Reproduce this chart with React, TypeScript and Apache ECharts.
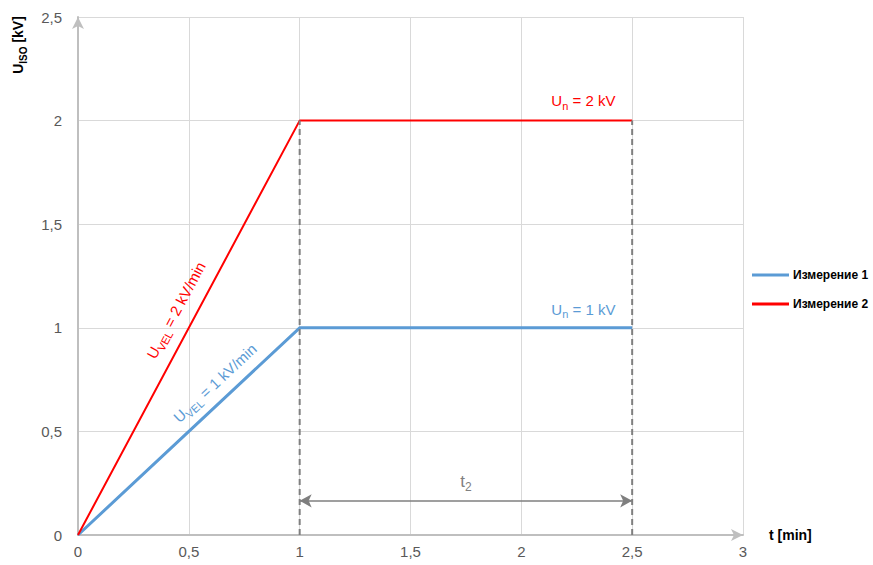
import React, { useEffect, useRef } from "react";
import * as echarts from "echarts";

// ---- data ----
const tValues = [0, 1, 2.5];
const measurement1 = [0, 1, 1];
const measurement2 = [0, 2, 2];
const seriesNames = ["Измерение 1", "Измерение 2"];
const dashedX = [1, 2.5];
const dashedTop = 2;
const t2Span = [1, 2.5];
const t2Level = 0.165;
const xTicks = [0, 0.5, 1, 1.5, 2, 2.5, 3];
const yTicks = [0, 0.5, 1, 1.5, 2, 2.5];

const BLUE = "#5b9bd5";
const RED = "#ff0000";
const GRAY = "#7f7f7f";
const AXIS = "#bfbfbf";
const LABEL = "#595959";
const FONT = "'Liberation Sans', Arial, sans-serif";
const BOLD = "'Liberation Sans', Arial, sans-serif";

const fmt = (v: number) => String(v).replace(".", ",");

// rich styles for ECharts labels (color)
const subRich = (color: string, size: number, font: string, weight: string = "normal") => ({
  m: { fontSize: size, color, fontFamily: font, fontWeight: weight, lineHeight: size + 6, verticalAlign: "middle" },
  s: { fontSize: Math.round(size * 0.7), color, fontFamily: font, fontWeight: weight, lineHeight: Math.round(size * 0.7), verticalAlign: "bottom" },
});
// rich styles for graphic texts (fill)
const subRichG = (color: string, size: number, font: string, weight: string = "normal") => ({
  m: { fontSize: size, fill: color, fontFamily: font, fontWeight: weight, lineHeight: size + 6, verticalAlign: "middle" },
  s: { fontSize: Math.round(size * 0.72), fill: color, fontFamily: font, fontWeight: weight, lineHeight: Math.round(size * 0.72), verticalAlign: "bottom" },
});

export default function App() {
  const ref = useRef<HTMLDivElement>(null);
  useEffect(() => {
    if (!ref.current) return;
    const chart = echarts.init(ref.current, null, { renderer: "svg" });
    const pts1 = tValues.map((t, i) => [t, measurement1[i]]);
    const pts2 = tValues.map((t, i) => [t, measurement2[i]]);
    chart.setOption({
      animation: false,
      backgroundColor: "#ffffff",
      grid: { left: 78, right: 130, top: 17, bottom: 30, containLabel: false },
      legend: {
        orient: "vertical",
        left: 747,
        top: 264,
        icon: "rect",
        itemWidth: 37,
        itemHeight: 3,
        itemGap: 17,
        data: seriesNames,
        textStyle: { fontFamily: BOLD, fontWeight: "bold", fontSize: 12, color: "#000", padding: [0, 0, 0, -1] },
      },
      xAxis: {
        type: "value",
        min: 0,
        max: 3,
        interval: 0.5,
        name: "t [min]",
        nameLocation: "end",
        nameGap: 26,
        nameTextStyle: { fontFamily: BOLD, fontWeight: "bold", fontSize: 14, color: "#000", verticalAlign: "middle", padding: [8, 0, 0, 0] },
        axisLine: { show: true, lineStyle: { color: AXIS, width: 2 }, symbol: ["none", "arrow"], symbolSize: [9, 12], symbolOffset: [0, 0] },
        axisTick: { show: false },
        axisLabel: { formatter: (v: number) => fmt(v), color: LABEL, fontSize: 15, fontFamily: FONT, margin: 9, customValues: xTicks },
        splitLine: { show: true, lineStyle: { color: "#d9d9d9", width: 1 } },
      },
      yAxis: {
        type: "value",
        min: 0,
        max: 2.5,
        interval: 0.5,
        axisLine: { show: true, lineStyle: { color: AXIS, width: 2 }, symbol: ["none", "arrow"], symbolSize: [9, 12] },
        axisTick: { show: false },
        axisLabel: { formatter: (v: number) => fmt(v), color: LABEL, fontSize: 15, fontFamily: FONT, margin: 16, customValues: yTicks },
        splitLine: { show: true, lineStyle: { color: "#d9d9d9", width: 1 } },
      },
      series: [
        {
          name: seriesNames[0],
          type: "line",
          data: pts1,
          symbol: "none",
          lineStyle: { color: BLUE, width: 3 },
          itemStyle: { color: BLUE },
          z: 3,
        },
        {
          name: seriesNames[1],
          type: "line",
          data: pts2,
          symbol: "none",
          lineStyle: { color: RED, width: 2 },
          itemStyle: { color: RED },
          z: 4,
        },
        ...dashedX.map((x) => ({
          name: "dashed" + x,
          type: "line",
          data: [
            [x, 0],
            [x, dashedTop],
          ],
          symbol: "none",
          lineStyle: { color: GRAY, width: 2, type: [6, 4] },
          z: 5,
          silent: true,
        })),
        {
          name: "t2",
          type: "line",
          data: [],
          z: 6,
          markLine: {
            silent: true,
            symbol: ["arrow", "arrow"],
            symbolSize: [10, 12],
            lineStyle: { color: GRAY, width: 1.5, type: "solid" },
            label: {
              show: true,
              position: "middle",
              distance: 8,
              formatter: "{m|t}{s|2}",
              rich: subRich("#808080", 17, FONT),
            },
            data: [
              [
                { coord: [t2Span[0], t2Level] },
                { coord: [t2Span[1], t2Level] },
              ],
            ],
          },
        },
      ],
    });

    const px = (p: number[]) => chart.convertToPixel({ gridIndex: 0 }, p) as number[];
    const angleOf = (a: number[], b: number[]) => {
      const pa = px(a);
      const pb = px(b);
      return Math.atan2(pa[1] - pb[1], pb[0] - pa[0]);
    };
    const redAngle = angleOf(pts2[0], pts2[1]);
    const blueAngle = angleOf(pts1[0], pts1[1]);
    const redPos = px([0.442, 1.085]);
    const bluePos = px([0.618, 0.734]);
    const un2 = px([2.28, 2.095]);
    const un1 = px([2.28, 1.09]);

    chart.setOption({
      graphic: [
        {
          type: "text",
          x: redPos[0],
          y: redPos[1],
          rotation: redAngle,
          style: {
            text: "{m|U}{s|VEL}{m| = 2 kV/min}",
            rich: subRichG(RED, 15, FONT),
            align: "center",
            verticalAlign: "middle",
          },
        },
        {
          type: "text",
          x: bluePos[0],
          y: bluePos[1],
          rotation: blueAngle,
          style: {
            text: "{m|U}{s|VEL}{m| = 1 kV/min}",
            rich: subRichG(BLUE, 15, FONT),
            align: "center",
            verticalAlign: "middle",
          },
        },
        {
          type: "text",
          x: un2[0],
          y: un2[1],
          style: {
            text: "{m|U}{s|n}{m| = 2 kV}",
            rich: subRichG(RED, 15, FONT),
            align: "center",
            verticalAlign: "middle",
          },
        },
        {
          type: "text",
          x: un1[0],
          y: un1[1],
          style: {
            text: "{m|U}{s|n}{m| = 1 kV}",
            rich: subRichG(BLUE, 15, FONT),
            align: "center",
            verticalAlign: "middle",
          },
        },
        {
          type: "text",
          x: 18,
          y: 45,
          rotation: Math.PI / 2,
          style: {
            text: "{m|U}{s|ISO}{m| [kV]}",
            rich: subRichG("#000", 14, BOLD, "bold"),
            align: "center",
            verticalAlign: "middle",
          },
        },
      ],
    });

    return () => chart.dispose();
  }, []);
  return <div ref={ref} style={{ width: 873, height: 565, position: "absolute", left: 0, top: 0 }} />;
}
